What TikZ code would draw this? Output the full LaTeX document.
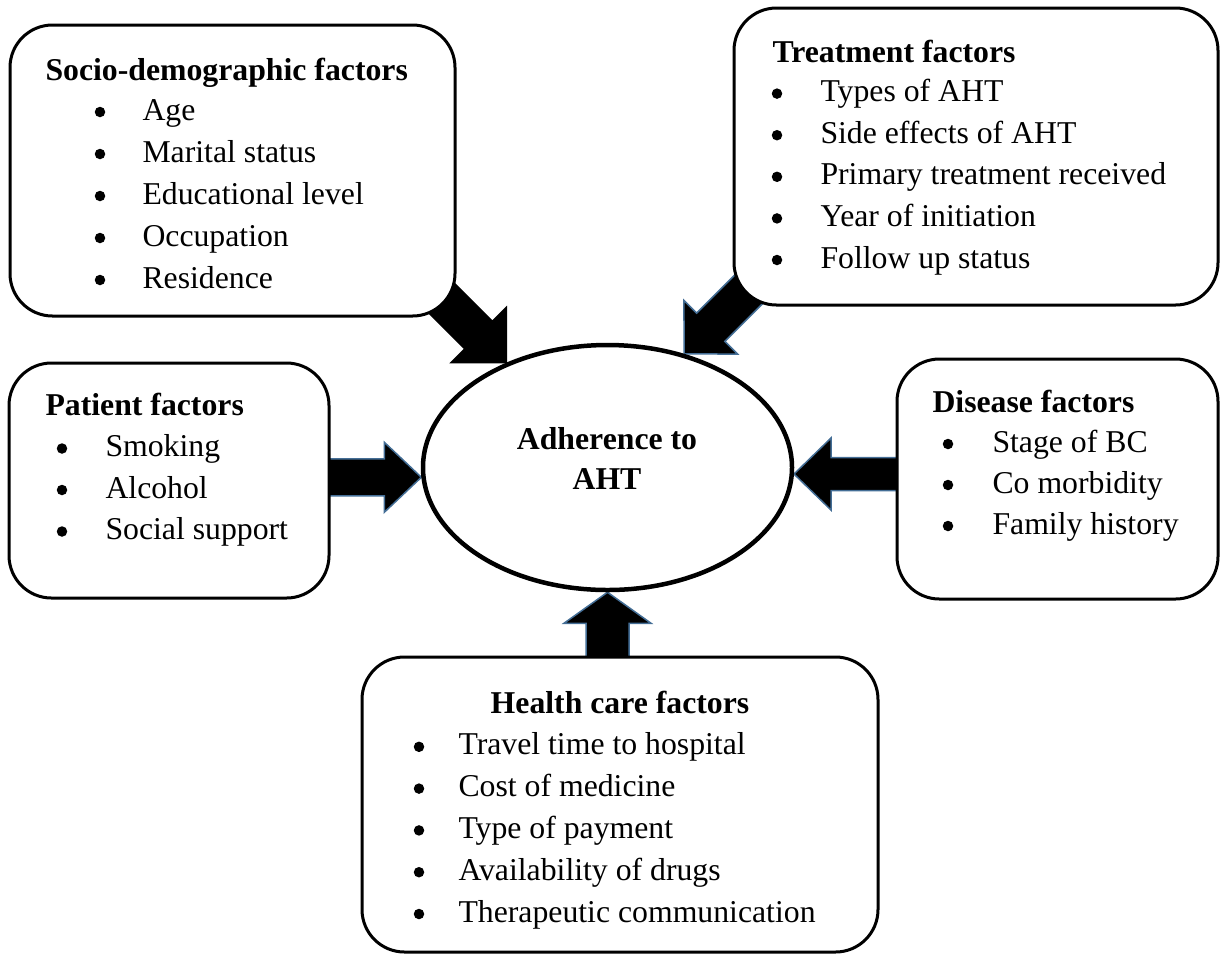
\documentclass[tikz,border=0pt]{standalone}
\usepackage{fontspec}
\setmainfont{Liberation Serif}
\usetikzlibrary{shapes.geometric,fit,backgrounds}

\definecolor{arrowedge}{RGB}{68,110,150}

\tikzset{
  factor/.style={draw, line width=1.2pt, rounded corners=17pt, fill=white, inner sep=0pt},
  hub/.style={ellipse, draw, line width=1.8pt, fill=white, inner sep=0pt,
    minimum width=147.6pt, minimum height=98pt},
  head/.style={anchor=base west, inner sep=0pt, font=\fontsize{12.7}{15}\selectfont\bfseries},
  item/.style={anchor=base west, inner sep=0pt, font=\fontsize{12.7}{15}\selectfont},
  dot/.style={circle, fill=black, inner sep=0pt, minimum size=4.2pt, yshift=3.2pt},
  blockarrow/.style={fill=black, line width=0.6pt, line join=miter}
}

% colour, tip, angle, length, head length, head half width, shaft half width
\newcommand{\fatarrow}[7]{%
  \draw[blockarrow, draw=#1, shift={(#2)}, rotate=#3]
    (0,0) -- (-#5,#6) -- (-#5,#7) -- (-#4,#7) -- (-#4,-#7) -- (-#5,-#7) -- (-#5,-#6) -- cycle;}

\begin{document}
\begin{tikzpicture}[x=0.4pt,y=-0.4pt]
  \useasboundingbox (0,0) rectangle (1220,956);

  % centre
  \node[hub] (adh) at (607.5,467.5) {};
  \node[align=center, inner sep=0pt, font=\fontsize{12.7}{16}\selectfont\bfseries]
    (adht) at (607,458) {Adherence to\\AHT};

  % boxes
  \node[factor, fit={(10,25) (455,316)}] (socio) {};
  \node[factor, fit={(734,8) (1218,305)}] (treat) {};
  \node[factor, fit={(9,363) (329,598)}] (patient) {};
  \node[factor, fit={(897,359) (1218,599)}] (disease) {};
  \node[factor, fit={(362,657) (878,952)}] (health) {};

  \node[head] (sociot) at (45,80) {Socio-demographic factors};
  \foreach \t [count=\i] in {Age,Marital status,Educational level,Occupation,Residence}{
    \node[dot] (sd\i) at (100,78+42*\i) {};
    \node[item] (si\i) at (142,78+42*\i) {\t};}

  \node[head] (treatt) at (772,62) {Treatment factors};
  \foreach \t [count=\i] in {Types of AHT,Side effects of AHT,Primary treatment received,Year of initiation,Follow up status}{
    \node[dot] (td\i) at (777,60+41.6*\i) {};
    \node[item] (ti\i) at (820,60+41.6*\i) {\t};}

  \node[head] (patientt) at (45,415) {Patient factors};
  \foreach \t [count=\i] in {Smoking,Alcohol,Social support}{
    \node[dot] (pd\i) at (62,415+41.5*\i) {};
    \node[item] (pi\i) at (105,415+41.5*\i) {\t};}

  \node[head] (diseaset) at (932,412) {Disease factors};
  \foreach \t [count=\i] in {Stage of BC,Co morbidity,Family history}{
    \node[dot] (dd\i) at (948,411+41*\i) {};
    \node[item] (di\i) at (992,411+41*\i) {\t};}

  \node[head, anchor=base] (healtht) at (620,713) {Health care factors};
  \foreach \t [count=\i] in {Travel time to hospital,Cost of medicine,Type of payment,Availability of drugs,Therapeutic communication}{
    \node[dot] (hd\i) at (419,713+41.8*\i) {};
    \node[item] (hi\i) at (458,713+41.8*\i) {\t};}

  % arrows
  \begin{scope}[on background layer]
    \fatarrow{black}{adh.134}{-45}{110}{39}{39}{19.5}
    \fatarrow{arrowedge}{adh.56}{-135}{110}{37.5}{38}{20}
    \fatarrow{arrowedge}{adh.183}{0}{95}{37}{35}{18.5}
    \fatarrow{arrowedge}{adh.358}{180}{107}{37}{36}{16.5}
    \fatarrow{arrowedge}{adh.south}{90}{68}{31}{43.5}{21.5}
  \end{scope}
\end{tikzpicture}
\end{document}
